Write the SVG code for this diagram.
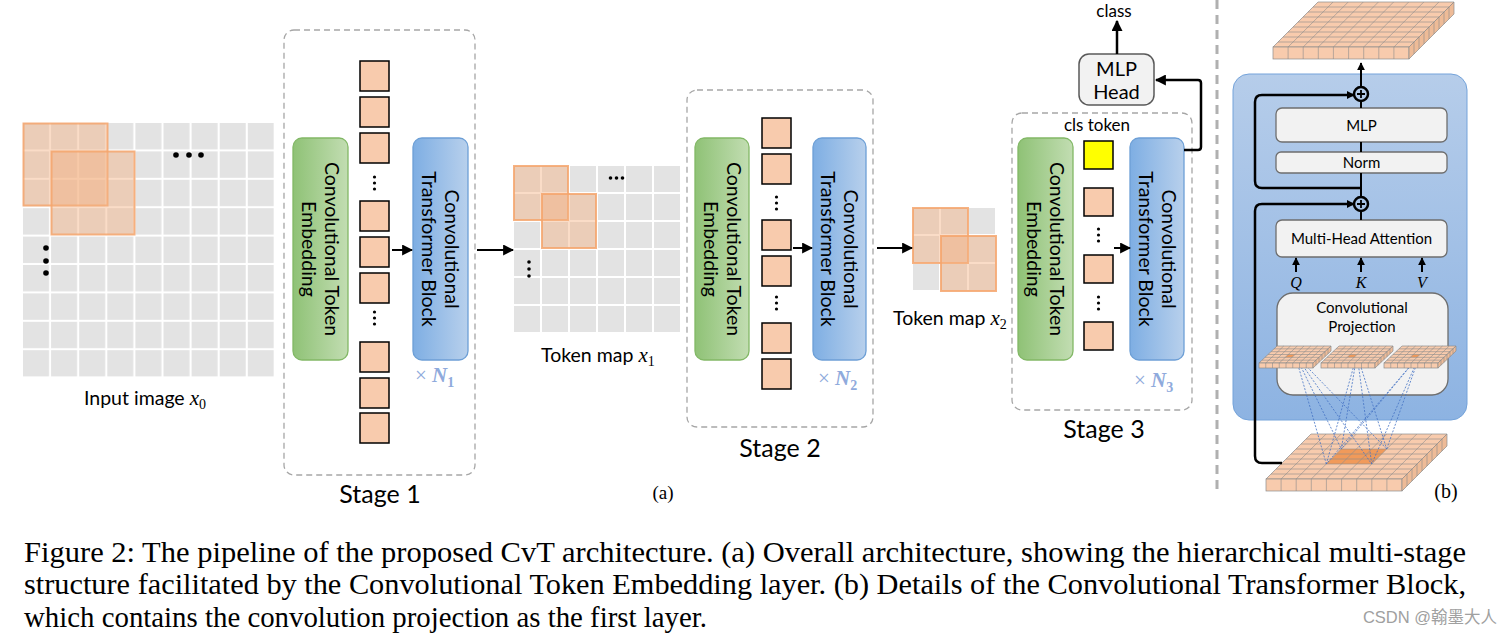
<svg xmlns="http://www.w3.org/2000/svg" width="1511" height="637" viewBox="0 0 1511 637">
<defs>
<style>
.sans{font-family:Lato,"Liberation Sans",sans-serif;fill:#000}
.serif{font-family:"Liberation Serif","Times New Roman",serif;fill:#000}
.stg{fill:none;stroke:#a6a6a6;stroke-width:1.3;stroke-dasharray:6 4}
.tok{fill:#f8cbad;stroke:#000;stroke-width:1.5}
.ov{fill:#f4b183;fill-opacity:.45;stroke:#f4a46c;stroke-opacity:.85;stroke-width:2}
.ctb{fill:url(#gBlue);stroke:#6d9fd6;stroke-width:1.3}
.cte{fill:url(#gGreen);stroke:#82b866;stroke-width:1.3}
.rt{font-size:19.5px;text-anchor:middle}
.ar{fill:none;stroke:#000;stroke-width:2}
.arb{fill:none;stroke:#000;stroke-width:2.5}
.nl{font-family:"Liberation Serif",serif;fill:#8faadc;font-size:21px}
.box{fill:#f2f2f2;stroke:#6e6e6e;stroke-width:1.3}
.slab{fill:#f8cbad;stroke:#8c8c8c;stroke-width:0.7}
.side{fill:#eebb97;stroke:#8c8c8c;stroke-width:0.7}
.gl{fill:none;stroke:#8c8c8c;stroke-width:0.6}
.dl{fill:none;stroke:#4472c4;stroke-width:0.8;stroke-dasharray:2 1.5}
.cap{font-family:"Liberation Serif","Times New Roman",serif;font-size:29.5px;fill:#000}
</style>
<linearGradient id="gGreen" x1="0" y1="0" x2="1" y2="0"><stop offset="0" stop-color="#8fc276"/><stop offset="1" stop-color="#c2ddb2"/></linearGradient>
<linearGradient id="gBlue" x1="0" y1="0" x2="1" y2="0"><stop offset="0" stop-color="#7eaee3"/><stop offset="1" stop-color="#b8d0ec"/></linearGradient>
<linearGradient id="gPanel" x1="0" y1="0" x2="0" y2="1"><stop offset="0" stop-color="#b6cdea"/><stop offset="1" stop-color="#8db3e2"/></linearGradient>
<pattern id="pIn" x="0" y="0" width="28.1" height="28.4" patternUnits="userSpaceOnUse"><rect width="26" height="26.4" fill="#e3e3e3"/></pattern>
<pattern id="p28" x="0" y="0" width="28" height="28" patternUnits="userSpaceOnUse"><rect width="26" height="26" fill="#e3e3e3"/></pattern>
<marker id="ah" viewBox="0 0 10 10" refX="9" refY="5" markerWidth="11" markerHeight="11" markerUnits="userSpaceOnUse" orient="auto"><path d="M0,0L10,5L0,10z" fill="#000"/></marker>
<marker id="ahs" viewBox="0 0 10 10" refX="9" refY="5" markerWidth="8" markerHeight="8" markerUnits="userSpaceOnUse" orient="auto"><path d="M0,0L10,5L0,10z" fill="#000"/></marker>
<g id="bigFaces">
<polygon class="slab" points="0,0 136,0 181,-45 45,-45"/>
<rect class="slab" x="0" y="0" width="136" height="12"/>
<polygon class="side" points="136,0 181,-45 181,-33 136,12"/>
</g>
<path id="bigLines" class="gl" d="M15.1,0l45,-45M30.2,0l45,-45M45.3,0l45,-45M60.4,0l45,-45M75.6,0l45,-45M90.7,0l45,-45M105.8,0l45,-45M120.9,0l45,-45M5,-5h136M10,-10h136M15,-15h136M20,-20h136M25,-25h136M30,-30h136M35,-35h136M40,-40h136M15.1,0v12M30.2,0v12M45.3,0v12M60.4,0v12M75.6,0v12M90.7,0v12M105.8,0v12M120.9,0v12M141,-5v12M146,-10v12M151,-15v12M156,-20v12M161,-25v12M166,-30v12M171,-35v12M176,-40v12"/>
<g id="smallSlab">
<polygon class="slab" points="0,0 54,0 72,-17 18,-17"/>
<rect class="slab" x="0" y="0" width="54" height="5"/>
<polygon class="side" points="54,0 72,-17 72,-12 54,5"/>
<polygon points="26.3,-5.7 33,-5.7 36,-8.5 29.3,-8.5" fill="#f19a5a"/>
<path class="gl" stroke-width="0.5" d="M6.75,0l18,-17M13.5,0l18,-17M20.25,0l18,-17M27,0l18,-17M33.75,0l18,-17M40.5,0l18,-17M47.25,0l18,-17M3,-2.83h54M6,-5.67h54M9,-8.5h54M12,-11.33h54M15,-14.17h54M6.75,0v5M13.5,0v5M20.25,0v5M27,0v5M33.75,0v5M40.5,0v5M47.25,0v5M57,-2.83v5M60,-5.67v5M63,-8.5v5M66,-11.33v5M69,-14.17v5"/>
</g>
</defs>
<rect width="1511" height="637" fill="#fff"/>

<g id="input-image">
<g transform="translate(23,123)">
<rect width="250.8" height="253.6" fill="url(#pIn)"/>
<rect class="ov" x="0.5" y="0.5" width="84" height="82"/>
<rect class="ov" x="28.5" y="28.5" width="83" height="83"/>
</g>
<circle cx="176" cy="155" r="2.8"/><circle cx="189" cy="155" r="2.8"/><circle cx="201" cy="155" r="2.8"/>
<circle cx="46" cy="248" r="2.8"/><circle cx="46" cy="261" r="2.8"/><circle cx="46" cy="273" r="2.8"/>
<text class="sans" x="84" y="405" font-size="19.5">Input image <tspan class="serif" font-style="italic" font-size="21">x</tspan><tspan class="serif" font-size="14" dy="4">0</tspan></text>
</g>

<g id="stage1">
<rect class="stg" x="284" y="30" width="191" height="445" rx="10"/>
<rect class="cte" x="293" y="138" width="55" height="222" rx="9"/>
<text class="sans rt" transform="translate(320.5,249) rotate(90)"><tspan x="0" y="-4.5">Convolutional Token</tspan><tspan x="0" y="18.5">Embedding</tspan></text>
<rect class="tok" x="360" y="61" width="29" height="30"/>
<rect class="tok" x="360" y="97" width="29" height="30"/>
<rect class="tok" x="360" y="133" width="29" height="30"/>
<rect class="tok" x="360" y="201" width="29" height="30"/>
<rect class="tok" x="360" y="237" width="29" height="30"/>
<rect class="tok" x="360" y="273" width="29" height="30"/>
<rect class="tok" x="360" y="342" width="29" height="30"/>
<rect class="tok" x="360" y="378" width="29" height="30"/>
<rect class="tok" x="360" y="413" width="29" height="30"/>
<circle cx="374.5" cy="177" r="1.6"/><circle cx="374.5" cy="183" r="1.6"/><circle cx="374.5" cy="189" r="1.6"/>
<circle cx="374.5" cy="312" r="1.6"/><circle cx="374.5" cy="318" r="1.6"/><circle cx="374.5" cy="324" r="1.6"/>
<rect class="ctb" x="413" y="138" width="55" height="222" rx="9"/>
<text class="sans rt" transform="translate(440.5,249) rotate(90)"><tspan x="0" y="-4.5">Convolutional</tspan><tspan x="0" y="18.5">Transformer Block</tspan></text>
<text class="nl" x="415" y="382">× <tspan font-weight="bold" font-style="italic">N</tspan><tspan font-weight="bold" font-size="14" dy="5">1</tspan></text>
<text class="sans" x="380" y="503" font-size="25" text-anchor="middle">Stage 1</text>
</g>

<g id="token-map-1">
<g transform="translate(514,166)">
<rect width="166" height="166" fill="url(#p28)"/>
<rect class="ov" x="0" y="0" width="54" height="54"/>
<rect class="ov" x="28" y="28" width="54" height="54"/>
</g>
<circle cx="610.5" cy="178" r="1.8"/><circle cx="616.5" cy="178" r="1.8"/><circle cx="622.5" cy="178" r="1.8"/>
<circle cx="529" cy="262" r="1.8"/><circle cx="529" cy="269" r="1.8"/><circle cx="529" cy="276" r="1.8"/>
<text class="sans" x="541" y="362" font-size="19.5">Token map <tspan class="serif" font-style="italic" font-size="21">x</tspan><tspan class="serif" font-size="14" dy="4">1</tspan></text>
</g>

<g id="stage2">
<rect class="stg" x="687" y="90" width="186" height="337" rx="10"/>
<rect class="cte" x="695" y="138" width="54" height="222" rx="9"/>
<text class="sans rt" transform="translate(722,249) rotate(90)"><tspan x="0" y="-4.5">Convolutional Token</tspan><tspan x="0" y="18.5">Embedding</tspan></text>
<rect class="tok" x="762" y="118" width="29" height="30"/>
<rect class="tok" x="762" y="154" width="29" height="30"/>
<rect class="tok" x="762" y="220" width="29" height="30"/>
<rect class="tok" x="762" y="256" width="29" height="30"/>
<rect class="tok" x="762" y="323" width="29" height="30"/>
<rect class="tok" x="762" y="359" width="29" height="30"/>
<circle cx="776.5" cy="197" r="1.6"/><circle cx="776.5" cy="203" r="1.6"/><circle cx="776.5" cy="209" r="1.6"/>
<circle cx="776.5" cy="297" r="1.6"/><circle cx="776.5" cy="303" r="1.6"/><circle cx="776.5" cy="309" r="1.6"/>
<rect class="ctb" x="813" y="138" width="53" height="222" rx="9"/>
<text class="sans rt" transform="translate(839.5,249) rotate(90)"><tspan x="0" y="-4.5">Convolutional</tspan><tspan x="0" y="18.5">Transformer Block</tspan></text>
<text class="nl" x="818" y="385">× <tspan font-weight="bold" font-style="italic">N</tspan><tspan font-weight="bold" font-size="14" dy="5">2</tspan></text>
<text class="sans" x="780" y="457" font-size="25" text-anchor="middle">Stage 2</text>
</g>

<g id="token-map-2">
<g transform="translate(913,208)">
<rect width="82" height="82" fill="url(#p28)"/>
<rect class="ov" x="0" y="0" width="55" height="55"/>
<rect class="ov" x="28" y="28" width="55" height="55"/>
</g>
<text class="sans" x="893" y="325" font-size="19.5">Token map <tspan class="serif" font-style="italic" font-size="21">x</tspan><tspan class="serif" font-size="14" dy="4">2</tspan></text>
</g>

<g id="stage3">
<rect class="stg" x="1012" y="113" width="180" height="297" rx="10"/>
<text class="sans" x="1097" y="131" font-size="17" text-anchor="middle">cls token</text>
<rect class="cte" x="1018" y="138" width="55" height="222" rx="9"/>
<text class="sans rt" transform="translate(1045.5,249) rotate(90)"><tspan x="0" y="-4.5">Convolutional Token</tspan><tspan x="0" y="18.5">Embedding</tspan></text>
<rect x="1084" y="141" width="29" height="28" fill="#ffff00" stroke="#000" stroke-width="1.5"/>
<rect class="tok" x="1084" y="188" width="29" height="28"/>
<rect class="tok" x="1084" y="255" width="29" height="28"/>
<rect class="tok" x="1084" y="322" width="29" height="28"/>
<circle cx="1098.5" cy="229" r="1.6"/><circle cx="1098.5" cy="235" r="1.6"/><circle cx="1098.5" cy="241" r="1.6"/>
<circle cx="1098.5" cy="297" r="1.6"/><circle cx="1098.5" cy="303" r="1.6"/><circle cx="1098.5" cy="309" r="1.6"/>
<rect class="ctb" x="1130" y="138" width="54" height="222" rx="9"/>
<text class="sans rt" transform="translate(1157,249) rotate(90)"><tspan x="0" y="-4.5">Convolutional</tspan><tspan x="0" y="18.5">Transformer Block</tspan></text>
<text class="nl" x="1134" y="387">× <tspan font-weight="bold" font-style="italic">N</tspan><tspan font-weight="bold" font-size="14" dy="5">3</tspan></text>
<text class="sans" x="1104" y="438" font-size="25" text-anchor="middle">Stage 3</text>
</g>

<g id="mlp-head">
<rect x="1079" y="54" width="75" height="51" rx="10" fill="#f2f2f2" stroke="#595959" stroke-width="1.5"/>
<text class="sans" x="1116.5" y="76" font-size="20" text-anchor="middle">MLP</text>
<text class="sans" x="1116.5" y="99" font-size="20" text-anchor="middle">Head</text>
</g>
<text id="class-label" class="sans" x="1114" y="17" font-size="17" text-anchor="middle">class</text>

<g id="connectors-a">
<path class="ar" d="M392,250H412" marker-end="url(#ah)"/>
<path class="ar" d="M793,248H812" marker-end="url(#ah)"/>
<path class="ar" d="M1114,248H1130" marker-end="url(#ah)"/>
<path class="ar" d="M477,250H513" marker-end="url(#ah)"/>
<path class="ar" d="M877,248H912" marker-end="url(#ah)"/>
<path class="arb" d="M1184,150H1198Q1201,150 1201,147V83Q1201,80 1198,80H1156" marker-end="url(#ah)"/>
<path class="arb" d="M1117,54V21" marker-end="url(#ah)"/>
</g>

<line id="separator" x1="1217" y1="0" x2="1217" y2="490" stroke="#b0b0b0" stroke-width="3" stroke-dasharray="9 6"/>
<text class="serif" x="663" y="499" font-size="19" text-anchor="middle">(a)</text>

<g id="block-detail">
<g id="output-tensor" transform="translate(1273,47)">
<use href="#bigFaces"/><use href="#bigLines"/>
</g>
<rect x="1233" y="74" width="234" height="346" rx="16" fill="url(#gPanel)" stroke="#74a3da" stroke-width="1"/>
<g id="mlp"><rect class="box" x="1276" y="108" width="171" height="34" rx="6"/>
<text class="sans" x="1361.5" y="131" font-size="15" text-anchor="middle">MLP</text></g>
<g id="norm"><rect class="box" x="1276" y="152" width="171" height="21" rx="5"/>
<text class="sans" x="1361.5" y="168" font-size="15" text-anchor="middle">Norm</text></g>
<g id="mha"><rect class="box" x="1276" y="220" width="171" height="37" rx="6"/>
<text class="sans" x="1361.5" y="244" font-size="15" text-anchor="middle">Multi-Head Attention</text></g>
<g id="conv-proj"><rect class="box" x="1277" y="293" width="171" height="102" rx="16"/>
<text class="sans" x="1362" y="313" font-size="15" text-anchor="middle">Convolutional</text>
<text class="sans" x="1362" y="332" font-size="15" text-anchor="middle">Projection</text></g>
<g id="plus1"><circle cx="1361" cy="94" r="7" fill="none" stroke="#000" stroke-width="2.5"/><path d="M1357,94h8M1361,90v8" stroke="#000" stroke-width="1.8"/></g>
<g id="plus2"><circle cx="1361" cy="204" r="7" fill="none" stroke="#000" stroke-width="2.5"/><path d="M1357,204h8M1361,200v8" stroke="#000" stroke-width="1.8"/></g>
<g id="input-tensor" transform="translate(1266,479)">
<use href="#bigFaces"/>
<polygon points="60.3,-15 105.7,-15 120.7,-30 75.3,-30" fill="#f19a5a"/>
<use href="#bigLines"/>
</g>
<g id="connectors-b">
<path class="dl" d="M1295,354.5L1326.3,464M1295,354.5L1371.7,464M1295,354.5L1386.7,449M1295,354.5L1341.3,449M1357,354.5L1326.3,464M1357,354.5L1371.7,464M1357,354.5L1386.7,449M1357,354.5L1341.3,449M1420,354.5L1326.3,464M1420,354.5L1371.7,464M1420,354.5L1386.7,449M1420,354.5L1341.3,449"/>
<path class="ar" d="M1361,87V63" marker-end="url(#ahs)"/>
<path class="ar" d="M1361,108V101M1361,142V152M1361,173V197M1361,211V220"/>
<path class="arb" d="M1361,188H1262Q1255,188 1255,181V102Q1255,95 1262,95H1354" marker-end="url(#ahs)"/>
<path class="arb" d="M1282,463H1262Q1255,463 1255,456V211Q1255,204 1262,204H1354" marker-end="url(#ahs)"/>
<path class="ar" d="M1296,272V258" marker-end="url(#ahs)"/>
<path class="ar" d="M1361,272V258" marker-end="url(#ahs)"/>
<path class="ar" d="M1422,272V258" marker-end="url(#ahs)"/>
</g>
<g id="proj-maps">
<use href="#smallSlab" transform="translate(1259,363)"/>
<use href="#smallSlab" transform="translate(1321,363)"/>
<use href="#smallSlab" transform="translate(1384,363)"/>
</g>
<text class="serif" x="1296" y="288" font-size="16" font-style="italic" text-anchor="middle">Q</text>
<text class="serif" x="1361" y="288" font-size="16" font-style="italic" text-anchor="middle">K</text>
<text class="serif" x="1422" y="288" font-size="16" font-style="italic" text-anchor="middle">V</text>
<text class="serif" x="1446" y="498" font-size="20" text-anchor="middle">(b)</text>
</g>

<g id="caption">
<text class="cap" x="24" y="562" textLength="1442" lengthAdjust="spacingAndGlyphs">Figure 2: The pipeline of the proposed CvT architecture. (a) Overall architecture, showing the hierarchical multi-stage</text>
<text class="cap" x="24" y="594" textLength="1442" lengthAdjust="spacingAndGlyphs">structure facilitated by the Convolutional Token Embedding layer. (b) Details of the Convolutional Transformer Block,</text>
<text class="cap" x="24" y="627" textLength="683" lengthAdjust="spacingAndGlyphs">which contains the convolution projection as the first layer.</text>
</g>
<text x="1497" y="623" font-family="'Liberation Sans','Noto Sans CJK SC',sans-serif" font-size="16.5" fill="#a0a0a0" text-anchor="end">CSDN @翰墨大人</text>
</svg>
